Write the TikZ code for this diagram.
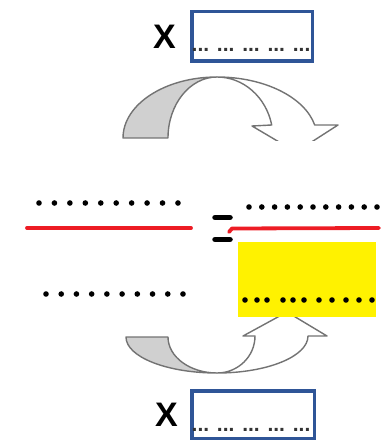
\documentclass[tikz,border=0pt]{standalone}
\usepackage{fontspec}
\setmainfont{Liberation Sans}
\usetikzlibrary{positioning}
\definecolor{boxblue}{RGB}{47,85,151}
\definecolor{bandgray}{RGB}{115,115,115}
\definecolor{bandfill}{RGB}{208,208,208}
\definecolor{lineRed}{RGB}{237,28,36}

\begin{document}
\begin{tikzpicture}[x=1pt,y=-1pt,
    blank/.style={draw=boxblue, line width=3.5pt, minimum width=120.5pt, minimum height=49.5pt, inner sep=0pt},
    bigx/.style={inner sep=0pt, font=\bfseries\fontsize{34}{34}\selectfont},
    fillin/.style={inner sep=0pt, text=black!80, font=\bfseries\fontsize{21}{21}\selectfont},
    band/.style={draw=bandgray, line width=1.4pt, line join=round},
    dot/.style={fill=black},
    redline/.style={draw=lineRed, line width=3.8pt, line cap=round, line join=round},
    bar/.style={line width=5.5pt, line cap=round}]

\useasboundingbox (0,0) rectangle (383,443);

% top factor
\node[blank] (boxtop) at (252,36.5) {};
\node[bigx, left=14pt of boxtop] (xtop) {X};
\node[fillin, anchor=base] (dtop) at (251,52) {... ... ... ... ...};

% top turn arrow
\begin{scope}
  \clip (0,60) rectangle (383,141);
  \draw[band, fill=bandfill] (123,138) arc[start angle=180, end angle=90, x radius=94pt, y radius=61pt]
      arc[start angle=90, end angle=180, x radius=49pt, y radius=61pt] -- cycle;
  \draw[band, fill=white] (217,77) arc[start angle=90, end angle=12.3, x radius=100pt, y radius=61pt]
      -- (338,125) -- (296,152) -- (252,126) -- (271.7,125)
      arc[start angle=12.3, end angle=90, x radius=56pt, y radius=61pt] -- cycle;
\end{scope}

% bottom turn arrow
\draw[band, fill=bandfill] (126,337) arc[start angle=180, end angle=270, x radius=91pt, y radius=36pt]
    arc[start angle=270, end angle=180, x radius=49pt, y radius=36pt] -- cycle;
\draw[band, fill=white] (217,373) arc[start angle=270, end angle=360, x radius=91pt, y radius=37pt]
    -- (327,336) -- (287,312) -- (243,336) -- (255,336)
    arc[start angle=0, end angle=-90, x radius=38pt, y radius=37pt] -- cycle;

% middle: the two sides
\foreach \i in {0,...,9}
  \fill[dot] ({39+15.44*\i},203) circle[radius=2.8pt];
\foreach \i in {0,...,10}
  \fill[dot] ({249+12.8*\i},207) circle[radius=2.8pt];
\draw[redline] (27,228) -- (191,228);
\draw[redline] (229,232) -- (232,228.5) -- (379,228);
\draw[bar] (215,217.5) -- (230,217.5);
\draw[bar] (215,239.5) -- (230,239.5);

\fill[yellow] (238,242) rectangle (376,317);
\foreach \x in {245,257,267,283,293,304,319,332,346,359,372}
  \fill[dot] (\x,300) circle[radius=2.8pt];
\foreach \i in {0,...,9}
  \fill[dot] ({46+15.22*\i},294) circle[radius=2.8pt];

% bottom factor
\node[blank, minimum width=122.5pt, minimum height=47.5pt] (boxbot) at (253,414.5) {};
\node[bigx, left=12pt of boxbot] (xbot) {X};
\node[fillin, anchor=base] (dbot) at (251,431) {... ... ... ... ...};
\end{tikzpicture}
\end{document}
